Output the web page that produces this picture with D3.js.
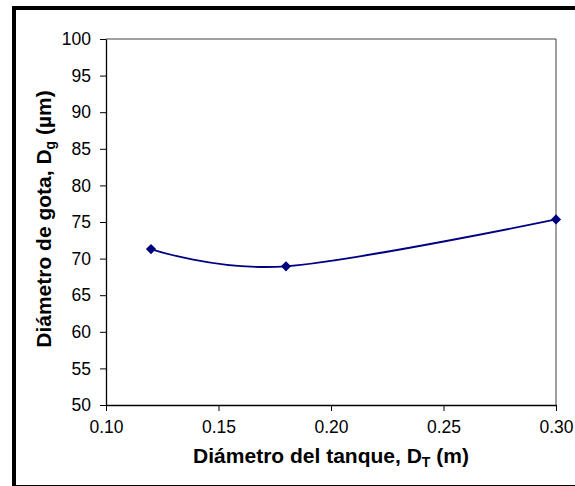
<!DOCTYPE html>
<html>
<head>
<meta charset="utf-8">
<script src="https://cdn.jsdelivr.net/npm/d3@7"></script>
<style>
  body { margin: 0; background: #fff; }
  text { font-family: "Liberation Sans", Arial, sans-serif; }
</style>
</head>
<body>
<svg id="chart" width="575" height="486"></svg>
<script>
// tank diameter (m) vs drop diameter (um)
var tankDiameter = [0.12, 0.18, 0.30];
var dropDiameter = [71.3, 68.95, 75.35];
var xTicks = [0.10, 0.15, 0.20, 0.25, 0.30];
var yTicks = [50, 55, 60, 65, 70, 75, 80, 85, 90, 95, 100];

var svg = d3.select("#chart");

// outer frame
svg.append("rect")
    .attr("x", 14).attr("y", 8)
    .attr("width", 620).attr("height", 479)
    .attr("fill", "none")
    .attr("stroke", "#000")
    .attr("stroke-width", 4);

var plotLeft = 106, plotTop = 39, plotRight = 556, plotBottom = 405;

var x = d3.scaleLinear().domain([0.10, 0.30]).range([plotLeft, plotRight]);
var y = d3.scaleLinear().domain([50, 100]).range([plotBottom, plotTop]);

// plot area border (top / right)
svg.append("path")
    .attr("d", `M${plotLeft},${plotTop}H${plotRight}V${plotBottom}`)
    .attr("fill", "none")
    .attr("stroke", "#404040")
    .attr("stroke-width", 1);

var xAxis = svg.append("g")
    .attr("transform", `translate(0,${plotBottom})`)
    .call(d3.axisBottom(x).tickValues(xTicks).tickFormat(d3.format(".2f")).tickSize(6).tickSizeOuter(0));

var yAxis = svg.append("g")
    .attr("transform", `translate(${plotLeft},0)`)
    .call(d3.axisLeft(y).tickValues(yTicks).tickFormat(d3.format("d")).tickSize(6).tickSizeOuter(0));

[xAxis, yAxis].forEach(function(g) {
    g.select(".domain").attr("stroke", "#000").attr("stroke-width", 1.3);
    g.selectAll(".tick line").attr("stroke", "#000");
    g.selectAll(".tick text")
        .attr("fill", "#000")
        .style("font-size", "17.5px")
        .style("font-family", "Liberation Sans, Arial, sans-serif");
});
xAxis.selectAll(".tick text").attr("y", 16);
yAxis.selectAll(".tick text").attr("x", -15);

// smoothed line
var pts = tankDiameter.map(function(d, i) { return [d, dropDiameter[i]]; });
var line = d3.line()
    .x(function(d) { return x(d[0]); })
    .y(function(d) { return y(d[1]); })
    .curve(d3.curveCardinal.tension(0));

svg.append("path")
    .datum(pts)
    .attr("d", line)
    .attr("fill", "none")
    .attr("stroke", "#000080")
    .attr("stroke-width", 1.8);

svg.selectAll(".marker")
    .data(pts)
    .enter()
    .append("path")
    .attr("class", "marker")
    .attr("d", d3.symbol(d3.symbolSquare, 52))
    .attr("transform", function(d) { return `translate(${x(d[0])},${y(d[1])}) rotate(45)`; })
    .attr("fill", "#000080");

// axis titles
var xt = svg.append("text")
    .attr("x", 331).attr("y", 463)
    .attr("text-anchor", "middle")
    .style("font-size", "21px")
    .style("font-weight", "bold");
xt.append("tspan").text("Diámetro del tanque, D");
xt.append("tspan").attr("dy", 4).style("font-size", "14px").text("T");
xt.append("tspan").attr("dy", -4).text(" (m)");

var yt = svg.append("text")
    .attr("transform", "translate(51,219) rotate(-90)")
    .attr("text-anchor", "middle")
    .style("font-size", "21px")
    .style("font-weight", "bold");
yt.append("tspan").text("Diámetro de gota, D");
yt.append("tspan").attr("dy", 4).style("font-size", "14px").text("g");
yt.append("tspan").attr("dy", -4).text(" (µm)");
</script>
</body>
</html>
